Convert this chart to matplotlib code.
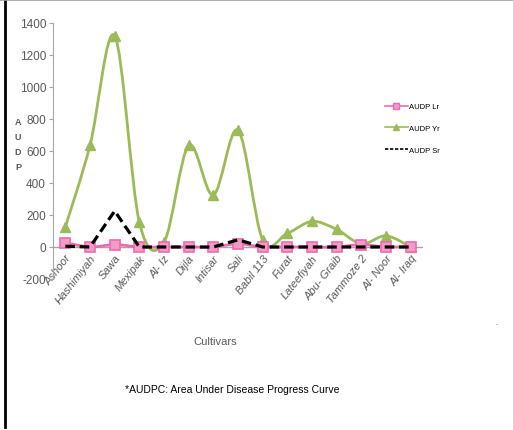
import matplotlib.pyplot as plt
from matplotlib.path import Path
from matplotlib.patches import PathPatch
from matplotlib.lines import Line2D
import numpy as np

plt.rcParams['font.family'] = ['Liberation Sans', 'DejaVu Sans']
plt.rcParams['axes.unicode_minus'] = False

# Datos
cultivars = ['Ashoor', 'Hashimiyah', 'Sawa', 'Mexipak', 'Al- Iz', 'Dijla', 'Intisar', 'Sali',
             'Babil 113', 'Furat', 'Lateefiyah', 'Abu- Graib', 'Tammoze 2', 'Al- Noor', 'Al- Iraq']
audp_lr = [28, 0, 15, 0, 0, 0, 0, 20, 0, 0, 0, 0, 15, 0, 3]
audp_yr = [125, 635, 1320, 155, 30, 635, 325, 730, 45, 85, 160, 110, 20, 70, 0]
audp_sr = [5, 0, 225, 0, 0, 0, 0, 45, 0, 0, 0, 0, 0, 0, 0]

pink = '#F06AAE'
green = '#9BBB59'
gris = '#595959'


def smooth_path(x, y):
    # curva suavizada tipo Excel (Bezier cubica)
    pts = np.column_stack([x, y]).astype(float)
    verts = [pts[0]]
    codes = [Path.MOVETO]
    n = len(pts)
    for i in range(n - 1):
        p0 = pts[max(i - 1, 0)]
        p1 = pts[i]
        p2 = pts[i + 1]
        p3 = pts[min(i + 2, n - 1)]
        verts += [p1 + (p2 - p0) / 6, p2 - (p3 - p1) / 6, p2]
        codes += [Path.CURVE4] * 3
    return Path(verts, codes)


x = np.arange(len(cultivars))

fig = plt.figure(figsize=(5.13, 4.31), dpi=100)
ax = fig.add_axes([53 / 513, 1 - 280 / 431, 370 / 513, 256 / 431])

ax.axhline(0, color='#A6A6A6', linewidth=1, zorder=1)

ax.add_patch(PathPatch(smooth_path(x, audp_yr), facecolor='none', edgecolor=green, linewidth=2, zorder=3))
ax.plot(x, audp_yr, linestyle='none', marker='^', markersize=7, color=green, zorder=4)

ax.add_patch(PathPatch(smooth_path(x, audp_lr), facecolor='none', edgecolor=pink, linewidth=2, zorder=3))
ax.plot(x, audp_lr, linestyle='none', marker='s', markersize=6.5, markerfacecolor='#F59BC8',
        markeredgecolor=pink, markeredgewidth=1.2, zorder=4)

ax.plot(x, audp_sr, color='black', linewidth=2.3, linestyle=(0, (3, 1.5)), zorder=5)

ax.set_xlim(-0.5, 14.5)
ax.set_ylim(-200, 1400)
ax.set_yticks(np.arange(-200, 1401, 200))
ax.set_xticks(x)
ax.set_xticklabels(cultivars, rotation=52, ha='right', va='top', rotation_mode='anchor',
                   fontsize=8, color=gris, style='italic')
ax.tick_params(axis='x', length=0)
ax.tick_params(axis='y', labelsize=8.5, labelcolor=gris, color='#A6A6A6', length=3, pad=2)

for s in ['top', 'right', 'bottom']:
    ax.spines[s].set_visible(False)
ax.spines['left'].set_color('#A6A6A6')

# etiquetas de cultivares justo debajo de la linea de cero
for lbl in ax.get_xticklabels():
    lbl.set_transform(ax.transData)
    lbl.set_position((lbl.get_position()[0] + 0.12, -35))

fig.text(18 / 513, 1 - 145 / 431, 'A\nU\nD\nP', fontsize=6.5, fontweight='bold', color=gris,
         ha='center', va='center', linespacing=1.9)
fig.text(215 / 513, 1 - 342 / 431, 'Cultivars', fontsize=8, color=gris, ha='center', va='center')
fig.text(232 / 513, 1 - 390 / 431, '*AUDPC: Area Under Disease Progress Curve', fontsize=7.5,
         color='black', ha='center', va='center')

handles = [
    Line2D([], [], color=pink, linewidth=1.2, marker='s', markersize=4.5,
           markerfacecolor='#F59BC8', markeredgecolor=pink),
    Line2D([], [], color=green, linewidth=1.2, marker='^', markersize=4.5),
    Line2D([], [], color='black', linewidth=1.2, linestyle=(0, (2, 1))),
]
fig.legend(handles, ['AUDP Lr', 'AUDP Yr', 'AUDP Sr'], loc='upper left',
           bbox_to_anchor=(378 / 513, 1 - 97 / 431), frameon=False, fontsize=5.5,
           handlelength=3, handletextpad=0.1, labelspacing=1.9)

# borde de la figura
fig.add_artist(Line2D([5 / 513, 5 / 513], [1 - 428 / 431, 1], color='black', linewidth=2,
                      transform=fig.transFigure))
fig.add_artist(Line2D([0, 1], [1 - 0.5 / 431] * 2, color='#A0A0A0', linewidth=1.2,
                      transform=fig.transFigure))
fig.text(497 / 513, 1 - 325 / 431, '-', fontsize=5, color='#808080', ha='center', va='center')

fig.savefig('out.png', dpi=100)
